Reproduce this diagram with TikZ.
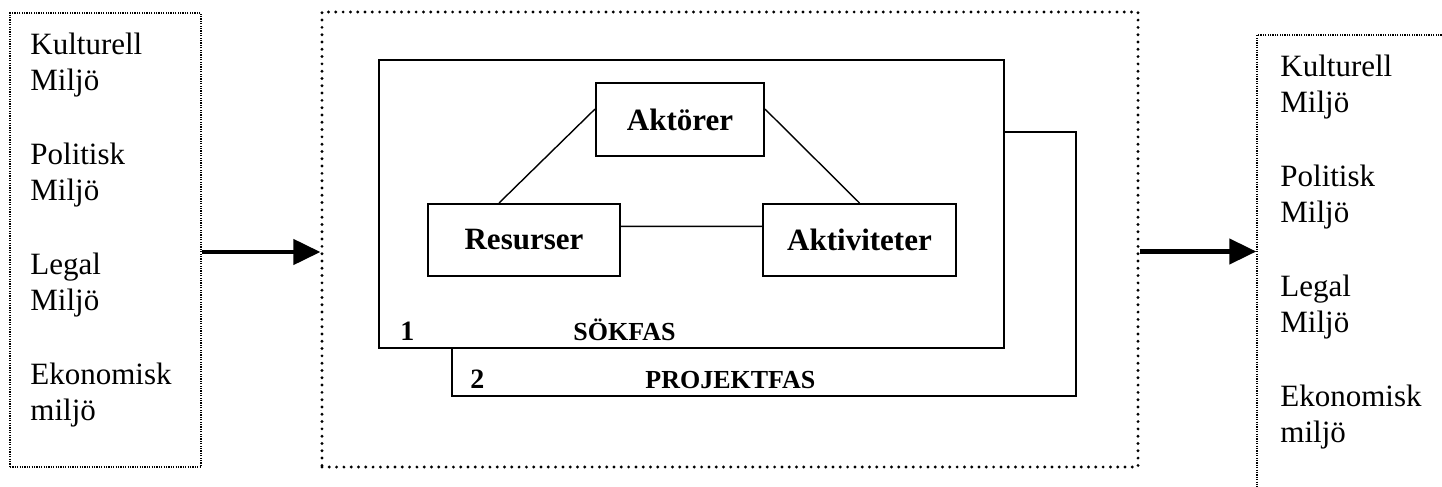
\documentclass[tikz,border=0pt]{standalone}
\usepackage{fontspec}
\setmainfont{Liberation Serif}
\usetikzlibrary{arrows.meta}

\begin{document}
\begin{tikzpicture}[
    x=0.5pt, y=-0.5pt,
    envbox/.style={draw, line width=0.7pt, dash pattern=on 0.6pt off 0.6pt, inner sep=0pt},
    natbox/.style={draw, line width=1.6pt, dash pattern=on 0pt off 3.65pt, line cap=round, inner sep=0pt},
    fasbox/.style={draw, line width=1pt, fill=white, inner sep=0pt},
    actor/.style={draw, line width=1pt, fill=white, inner sep=0pt, font=\fontsize{15.5pt}{18pt}\selectfont\bfseries},
    envtxt/.style={anchor=base west, align=left, inner sep=0pt, font=\fontsize{15.5pt}{18pt}\selectfont},
    fastxt/.style={anchor=base west, inner sep=0pt, font=\fontsize{13pt}{15pt}\selectfont\bfseries},
    fasnum/.style={fastxt, font=\fontsize{14pt}{16pt}\selectfont\bfseries},
    link/.style={line width=0.7pt},
    flow/.style={-{Triangle[length=13.5pt, width=12.5pt]}, line width=2.2pt},
]
\useasboundingbox (0,0) rectangle (1442,487);
\clip (0,0) rectangle (1442,487);

% --- Environment (left and right), text placed by its last line ---
\node[envbox, minimum width=95.5pt, minimum height=227pt] at (105.5, 240) (envL) {};
\node[envtxt] at (30, 420) (envtxtL) {Kulturell\\Miljö\\[19pt]Politisk\\Miljö\\[19pt]Legal\\Miljö\\[19pt]Ekonomisk\\miljö};
\node[envbox, minimum width=101.5pt, minimum height=232.5pt] at (1358.5, 267.5) (envR) {};
\node[envtxt] at (1280, 442) (envtxtR) {Kulturell\\Miljö\\[19pt]Politisk\\Miljö\\[19pt]Legal\\Miljö\\[19pt]Ekonomisk\\miljö};

% --- Network (dotted frame) ---
\node[natbox, minimum width=408pt, minimum height=227.5pt] at (730, 239.5) (nat) {};

% --- Phases ---
\node[fasbox, minimum width=312pt, minimum height=132pt]  at (764, 264)   (projekt) {};
\node[fasbox, minimum width=312.5pt, minimum height=144pt] at (691.5, 204) (sok) {};
\node[fasnum] at (400, 340) (sokno)    {1};
\node[fastxt] at (573, 340) (sokname)  {SÖKFAS};
\node[fasnum] at (470, 388) (projno)   {2};
\node[fastxt] at (645, 388) (projname) {PROJEKTFAS};

% --- ARA triangle ---
\node[actor, minimum width=84pt, minimum height=36.5pt] at (680, 119.5) (akt)  {Aktörer};
\node[actor, minimum width=96pt, minimum height=36pt]   at (524, 240)   (res)  {Resurser};
\node[actor, minimum width=96.5pt, minimum height=36pt] at (859.5, 240) (aktv) {Aktiviteter};

\draw[link] (akt.173) -- (res.124);
\draw[link] (akt.7)   -- (aktv.north);
\draw[link] (res.8)   -- (aktv.172);

% --- Flow arrows ---
\draw[flow] ([yshift=-6pt]envL.east) -- ([yshift=-6pt]envL.east -| nat.west);
\draw[flow] ([yshift=-6pt]nat.east)  -- ([yshift=-6pt]nat.east -| envR.west);

\end{tikzpicture}
\end{document}
